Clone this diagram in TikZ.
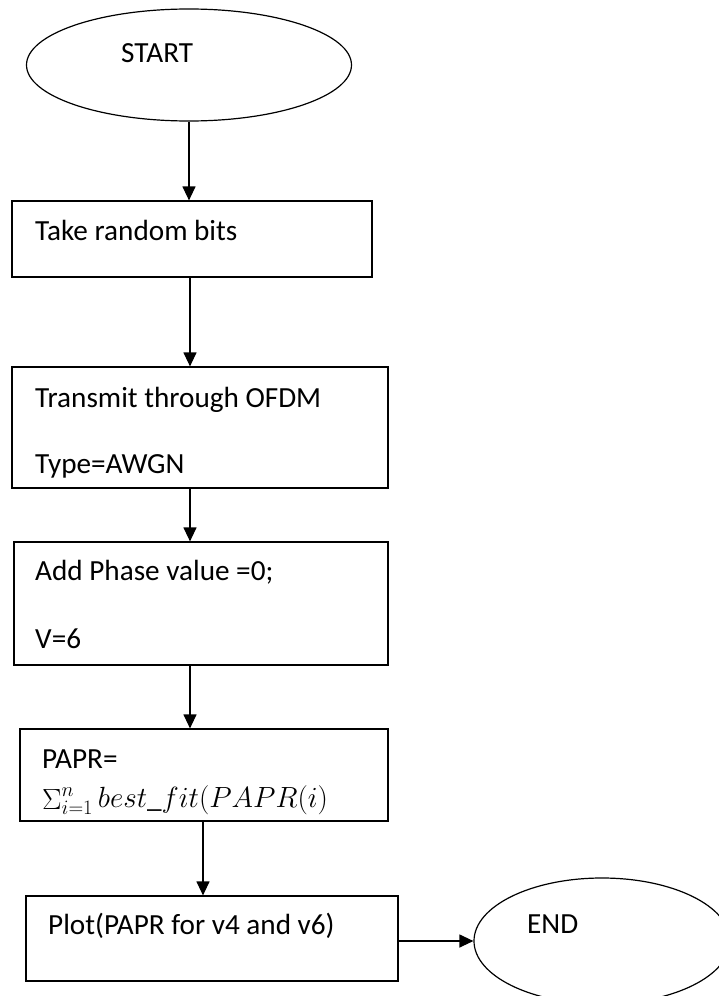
\RequirePackage{fix-cm}
\documentclass[tikz,border=0pt]{standalone}
\usepackage{fontspec}
\setmainfont{Carlito}
\usetikzlibrary{arrows.meta, shapes.geometric}

\begin{document}
\begin{tikzpicture}[x=1pt, y=-1pt,
    term/.style={draw, ellipse, line width=1.2pt, minimum width=325pt, minimum height=112pt, inner sep=0pt},
    box/.style={draw, rectangle, line width=1.2pt, inner sep=0pt},
    txt/.style={anchor=base west, inner sep=0pt, font=\fontsize{29.2}{35}\selectfont},
    arrow/.style={-{Triangle[length=14pt, width=13pt]}, line width=1.2pt},
]
\useasboundingbox (0,0) rectangle (719,996);
\clip (0,0) rectangle (719,996);

% ===== terminals =====
\node[term] (start) at (189,65) {};
\node[txt] (startlbl) at (121,62) {START};
\node[term, minimum width=256pt, minimum height=126pt] (end) at (602,941) {};
\node[txt] (endlbl) at (527,933) {END};

% ===== process boxes =====
\node[box, minimum width=360pt, minimum height=76pt] (bits) at (192,239) {};
\node[txt] (bitslbl) at (35,240) {Take random bits};

\node[box, minimum width=376pt, minimum height=121pt] (ofdm) at (200,427.5) {};
\node[txt] (ofdmlbl) at (35,407) {Transmit through OFDM};
\node[txt] (typelbl) at (35,473) {Type=AWGN};

\node[box, minimum width=374pt, minimum height=123pt] (phase) at (201,603.5) {};
\node[txt] (phaselbl) at (35,580) {Add Phase value =0;};
\node[txt] (vlbl) at (35,648) {V=6};

\node[box, minimum width=368pt, minimum height=92pt] (papr) at (204,775) {};
\node[txt] (paprlbl) at (42,768) {PAPR=};
\node[txt] (sumlbl) at (42,807) {$\mathop{\Sigma}\nolimits_{i=1}^{n} best\_fit(PAPR(i)$};

\node[box, minimum width=372pt, minimum height=85pt] (plot) at (212,938.5) {};
\node[txt] (plotlbl) at (48,934) {Plot(PAPR for v4 and v6)};

% ===== arrows =====
\coordinate (axisA) at (190,0);
\coordinate (axisB) at (203,0);
\draw[arrow] (start.south) -- (start.south |- bits.north);
\draw[arrow] (bits.south -| axisA)  -- (ofdm.north -| axisA);
\draw[arrow] (ofdm.south -| axisA)  -- (phase.north -| axisA);
\draw[arrow] (phase.south -| axisA) -- (papr.north -| axisA);
\draw[arrow] (papr.south -| axisB)  -- (plot.north -| axisB);
\draw[arrow] (plot.east |- end)     -- (end.west);
\end{tikzpicture}
\end{document}
